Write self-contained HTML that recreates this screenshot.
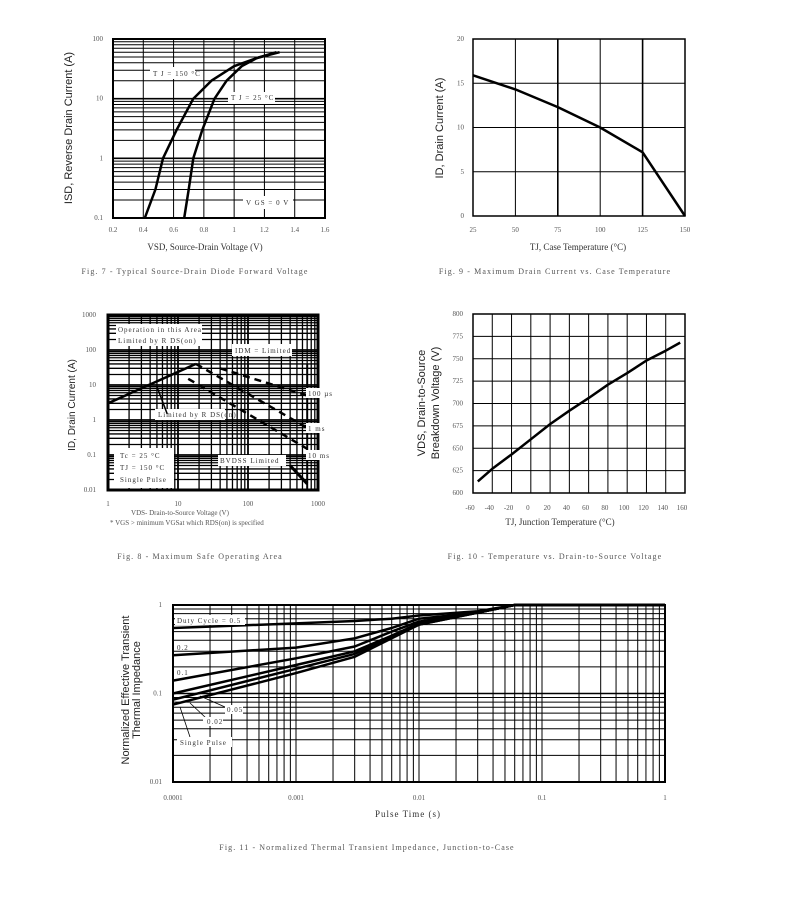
<!DOCTYPE html>
<html><head><meta charset="utf-8"><style>
html,body{margin:0;padding:0;background:#fff;width:787px;height:898px;overflow:hidden}
svg{display:block}
text{font-family:"Liberation Serif",serif;fill:#333}
.tk{font-size:7px;fill:#555}
.sans{font-family:"Liberation Sans",sans-serif;fill:#222}
.cap{font-size:8px;fill:#555;letter-spacing:1.1px}
.lab{font-size:7px;letter-spacing:1px;fill:#333}
</style></head><body>
<svg id="page" width="787" height="898" viewBox="0 0 787 898" xmlns="http://www.w3.org/2000/svg"></svg>
<script>
// ---- Fig 7 data ----
const f7XTicks=[0.2,0.4,0.6,0.8,1,1.2,1.4,1.6];
const f7YTicks=[0.1,1,10,100];
const f7V150=[0.41,0.48,0.53,0.62,0.73,0.85,1.0,1.15,1.3];
const f7I150=[0.1,0.3,1,3,10,20,35,48,60];
const f7V25=[0.67,0.70,0.73,0.79,0.87,0.95,1.05,1.15,1.28];
const f7I25=[0.1,0.3,1,3,10,20,35,48,60];
// ---- Fig 9 data ----
const f9XTicks=[25,50,75,100,125,150];
const f9YTicks=[0,5,10,15,20];
const f9T=[25,50,75,100,125,150];
const f9I=[15.9,14.3,12.3,10,7.2,0];
// ---- Fig 8 data ----
const f8XTicks=[1,10,100,1000];
const f8YTicks=[0.01,0.1,1,10,100,1000];
const f8RdsV=[1,18];const f8RdsI=[3,40];
const f8LimV=[5,7];const f8LimI=[9,1.5];
const f8V100us=[40,700];const f8I100us=[30,5];
const f8V1ms=[18,700];const f8I1ms=[40,0.6];
const f8V10ms=[14,700];const f8I10ms=[15,0.15];
const f8BvV=[400,700];const f8BvI=[0.05,0.015];
const f8VmaxV=[700,700];const f8VmaxI=[0.01,40];
// ---- Fig 10 data ----
const f10XTicks=[-60,-40,-20,0,20,40,60,80,100,120,140,160];
const f10YTicks=[600,625,650,675,700,725,750,775,800];
const f10T=[-55,-40,-20,0,20,40,60,80,100,120,140,155];
const f10V=[613,627,643,660,677,692,706,721,734,748,759,768];
// ---- Fig 11 data ----
const f11XTicks=[0.0001,0.001,0.01,0.1,1];
const f11XLabels=['0.0001','0.001','0.01','0.1','1'];
const f11YTicks=[0.01,0.1,1];
const f11T=[0.0001,0.001,0.003,0.006,0.01,0.03,0.06,1];
const f11D05=[0.55,0.62,0.66,0.70,0.76,0.85,1,1];
const f11D02=[0.27,0.33,0.42,0.55,0.70,0.82,1,1];
const f11D01=[0.14,0.25,0.34,0.50,0.65,0.82,1,1];
const f11D005=[0.10,0.21,0.30,0.45,0.62,0.82,1,1];
const f11D002=[0.085,0.19,0.28,0.43,0.60,0.82,1,1];
const f11Single=[0.075,0.17,0.26,0.42,0.60,0.82,1,1];

const NS='http://www.w3.org/2000/svg';
const svg=document.getElementById('page');
function mk(tag,attrs,name,parent){
  const el=document.createElementNS(NS,tag);
  for(const k in attrs) el.setAttribute(k,attrs[k]);
  
  
  (parent||svg).appendChild(el);
  return el;
}
function txt(x,y,s,cls,name,anchor,parent,rot){
  const t=mk('text',{x:x,y:y,'class':cls,'text-anchor':anchor||'start'},name,parent);
  if(rot) t.setAttribute('transform','rotate(-90 '+x+' '+y+')');
  t.textContent=s;return t;
}
function lin(lo,hi,p0,p1){return v=>p0+(v-lo)/(hi-lo)*(p1-p0);}
function lg(lo,hi,p0,p1){return v=>p0+(Math.log10(v)-Math.log10(lo))/(Math.log10(hi)-Math.log10(lo))*(p1-p0);}
function path(xs,ys,X,Y,name,g,w,dash){
  let d='';for(let i=0;i<xs.length;i++)d+=(i?'L':'M')+X(xs[i]).toFixed(1)+' '+Y(ys[i]).toFixed(1);
  const p=mk('path',{d:d,fill:'none',stroke:'#000','stroke-width':w||2.5,'stroke-linejoin':'round'},name,g);
  if(dash)p.setAttribute('stroke-dasharray',dash);
  return p;
}
function logGridVals(lo,hi){const r=[];for(let d=Math.round(Math.log10(lo));d<Math.round(Math.log10(hi));d++)for(let k=1;k<10;k++)r.push(k*Math.pow(10,d));r.push(hi);return r;}
function hline(g,y,x0,x1,w,name){mk('line',{x1:x0,x2:x1,y1:y,y2:y,stroke:'#000','stroke-width':w},name,g);}
function vline(g,x,y0,y1,w,name){mk('line',{x1:x,x2:x,y1:y0,y2:y1,stroke:'#000','stroke-width':w},name,g);}
function box(g,x,y,w,h,name){mk('rect',{x:x,y:y,width:w,height:h,fill:'#fff'},name,g);}

// ===== Fig 7 =====
(function(){
  const g=mk('g',{},'fig7-source-drain-chart');
  const L=113,R=325,T=39,B=218;
  const X=lin(0.2,1.6,L,R),Y=lg(0.1,100,B,T);
  f7XTicks.forEach(v=>vline(g,X(v),T,B,1,'x-gridline'));
  logGridVals(0.1,100).forEach(v=>hline(g,Y(v),L,R,Math.abs(Math.log10(v)%1)<1e-9?1.6:1,'y-gridline'));
  mk('rect',{x:L,y:T,width:R-L,height:B-T,fill:'none',stroke:'#000','stroke-width':2},'plot-frame',g);
  path(f7V150,f7I150,X,Y,'series-tj-150',g,2.5);
  path(f7V25,f7I25,X,Y,'series-tj-25',g,2.5);
  box(g,150,67,45,12,'label-bg');txt(153,76,'T J  = 150 °C','lab','label-tj-150','start',g);
  box(g,228,92,47,12,'label-bg');txt(231,100,'T J  = 25 °C','lab','label-tj-25','start',g);
  box(g,243,196,50,13,'label-bg');txt(246,205,'V GS  = 0 V','lab','label-vgs','start',g);
  f7XTicks.forEach(v=>txt(X(v),232,String(v),'tk','x-tick-label','middle',g));
  f7YTicks.forEach(v=>txt(103,Y(v)+2,String(v),'tk','y-tick-label','end',g));
  txt(205,250,'VSD, Source-Drain Voltage (V)','','x-axis-title','middle',g).setAttribute('style','font-size:9px');
  const yt=txt(72,128,'ISD, Reverse Drain Current (A)','sans','y-axis-title','middle',g,true);yt.setAttribute('style','font-size:11px');
  txt(195,274,'Fig. 7 - Typical Source-Drain Diode Forward Voltage','cap','caption-fig7','middle',g);
})();

// ===== Fig 9 =====
(function(){
  const g=mk('g',{},'fig9-drain-current-chart');
  const L=473,R=685,T=39,B=216;
  const X=lin(25,150,L,R),Y=lin(0,20,B,T);
  f9XTicks.forEach(v=>vline(g,X(v),T,B,v===75||v===125?1.6:1,'x-gridline'));
  f9YTicks.forEach(v=>hline(g,Y(v),L,R,1,'y-gridline'));
  mk('rect',{x:L,y:T,width:R-L,height:B-T,fill:'none',stroke:'#000','stroke-width':1.5},'plot-frame',g);
  path(f9T,f9I,X,Y,'series-drain-current',g,2.5);
  f9XTicks.forEach(v=>txt(X(v),232,String(v),'tk','x-tick-label','middle',g));
  f9YTicks.forEach(v=>txt(464,Y(v)+2,String(v),'tk','y-tick-label','end',g));
  txt(578,250,'TJ, Case Temperature (°C)','','x-axis-title','middle',g).setAttribute('style','font-size:9px');
  const yt=txt(443,128,'ID, Drain Current (A)','sans','y-axis-title','middle',g,true);yt.setAttribute('style','font-size:11px');
  txt(555,274,'Fig. 9 - Maximum Drain Current vs. Case Temperature','cap','caption-fig9','middle',g);
})();

// ===== Fig 8 =====
(function(){
  const g=mk('g',{},'fig8-safe-operating-area-chart');
  const L=108,R=318,T=315,B=490;
  const X=lg(1,1000,L,R),Y=lg(0.01,1000,B,T);
  logGridVals(1,1000).forEach(v=>vline(g,X(v),T,B,Math.abs(Math.log10(v)%1)<1e-9?1.8:1.3,'x-gridline'));
  logGridVals(0.01,1000).forEach(v=>hline(g,Y(v),L,R,Math.abs(Math.log10(v)%1)<1e-9?1.8:1.3,'y-gridline'));
  mk('rect',{x:L,y:T,width:R-L,height:B-T,fill:'none',stroke:'#000','stroke-width':3},'plot-frame',g);
  box(g,116,324,86,22,'label-bg');
  txt(118,332,'Operation in this Area','lab','label-operation-area','start',g);
  txt(118,343,'Limited by R DS(on)','lab','label-limited-rds','start',g);
  box(g,232,344,60,12,'label-bg');txt(235,353,'IDM = Limited','lab','label-idm','start',g);
  box(g,155,409,70,11,'label-bg');txt(158,417,'Limited by R DS(on)','lab','label-limited-rds-2','start',g);
  box(g,114,448,60,40,'label-bg');
  txt(120,458,'Tc = 25 °C','lab','label-tc','start',g);
  txt(120,470,'TJ = 150 °C','lab','label-tj','start',g);
  txt(120,482,'Single Pulse','lab','label-single-pulse','start',g);
  box(g,218,455,68,11,'label-bg');txt(220,463,'BVDSS Limited','lab','label-bvdss','start',g);
  path(f8RdsV,f8RdsI,X,Y,'series-rds-limit',g,2.5);
  path(f8LimV,f8LimI,X,Y,'series-rds-limit-short',g,1.5);
  path(f8V100us,f8I100us,X,Y,'series-100us',g,2.5,'7 5');
  path(f8V1ms,f8I1ms,X,Y,'series-1ms',g,2.5,'7 5');
  path(f8V10ms,f8I10ms,X,Y,'series-10ms',g,2.5,'7 5');
  path(f8BvV,f8BvI,X,Y,'series-bvdss',g,3);
  path(f8VmaxV,f8VmaxI,X,Y,'series-vmax',g,2);
  box(g,306,388,34,10,'label-bg');txt(308,396,'100 µs','lab','label-100us','start',g);
  box(g,306,423,30,10,'label-bg');txt(308,431,'1 ms','lab','label-1ms','start',g);
  box(g,306,450,34,10,'label-bg');txt(308,458,'10 ms','lab','label-10ms','start',g);
  f8XTicks.forEach(v=>txt(X(v),506,String(v),'tk','x-tick-label','middle',g));
  f8YTicks.forEach(v=>txt(96,Y(v)+2,String(v),'tk','y-tick-label','end',g));
  txt(180,515,'VDS- Drain-to-Source Voltage (V)','tk','x-axis-title','middle',g);
  txt(110,525,'*  VGS > minimum VGSat which RDS(on) is specified','tk','footnote','start',g);
  const yt=txt(75,405,'ID, Drain Current (A)','sans','y-axis-title','middle',g,true);yt.setAttribute('style','font-size:10px');
  txt(200,559,'Fig. 8 - Maximum Safe Operating Area','cap','caption-fig8','middle',g);
})();

// ===== Fig 10 =====
(function(){
  const g=mk('g',{},'fig10-breakdown-voltage-chart');
  const L=473,R=685,T=314,B=493;
  const X=lin(-60,160,L,R),Y=lin(600,800,B,T);
  f10XTicks.forEach(v=>vline(g,X(v),T,B,1,'x-gridline'));
  f10YTicks.forEach(v=>hline(g,Y(v),L,R,1,'y-gridline'));
  mk('rect',{x:L,y:T,width:R-L,height:B-T,fill:'none',stroke:'#000','stroke-width':1.5},'plot-frame',g);
  path(f10T,f10V,X,Y,'series-breakdown-voltage',g,2.5);
  f10XTicks.forEach(v=>txt(X(v)-3,510,String(v),'tk','x-tick-label','middle',g));
  f10YTicks.forEach(v=>txt(463,Y(v)+2,String(v),'tk','y-tick-label','end',g));
  txt(560,525,'TJ, Junction Temperature (°C)','','x-axis-title','middle',g).setAttribute('style','font-size:9px');
  const y1=txt(425,403,'VDS, Drain-to-Source','sans','y-axis-title-line1','middle',g,true);y1.setAttribute('style','font-size:11px');
  const y2=txt(439,403,'Breakdown Voltage (V)','sans','y-axis-title-line2','middle',g,true);y2.setAttribute('style','font-size:11px');
  txt(555,559,'Fig. 10 - Temperature vs. Drain-to-Source Voltage','cap','caption-fig10','middle',g);
})();

// ===== Fig 11 =====
(function(){
  const g=mk('g',{},'fig11-thermal-impedance-chart');
  const L=173,R=665,T=605,B=782;
  const X=lg(0.0001,1,L,R),Y=lg(0.01,1,B,T);
  logGridVals(0.0001,1).forEach(v=>vline(g,X(v),T,B,1,'x-gridline'));
  logGridVals(0.01,1).forEach(v=>hline(g,Y(v),L,R,Math.abs(Math.log10(v)%1)<1e-9?1.6:1,'y-gridline'));
  mk('rect',{x:L,y:T,width:R-L,height:B-T,fill:'none',stroke:'#000','stroke-width':2},'plot-frame',g);
  path(f11T,f11D05,X,Y,'series-duty-0.5',g,2.5);
  path(f11T,f11D02,X,Y,'series-duty-0.2',g,2.5);
  path(f11T,f11D01,X,Y,'series-duty-0.1',g,2.5);
  path(f11T,f11D005,X,Y,'series-duty-0.05',g,2.5);
  path(f11T,f11D002,X,Y,'series-duty-0.02',g,2.5);
  path(f11T,f11Single,X,Y,'series-single-pulse',g,2.5);
  box(g,175,615,70,10,'label-bg');txt(177,623,'Duty Cycle = 0.5','lab','label-duty-0.5','start',g);
  txt(177,650,'0.2','lab','label-0.2','start',g);
  txt(177,675,'0.1','lab','label-0.1','start',g);
  mk('line',{x1:200,y1:696,x2:225,y2:707,stroke:'#000','stroke-width':0.8},'arrow-0.05',g);
  box(g,225,705,18,9,'label-bg');txt(227,712,'0.05','lab','label-0.05','start',g);
  mk('line',{x1:190,y1:703,x2:206,y2:718,stroke:'#000','stroke-width':0.8},'arrow-0.02',g);
  box(g,203,717,20,9,'label-bg');txt(207,724,'0.02','lab','label-0.02','start',g);
  mk('line',{x1:180,y1:707,x2:190,y2:737,stroke:'#000','stroke-width':0.8},'arrow-single-pulse',g);
  box(g,177,737,55,10,'label-bg');txt(180,745,'Single Pulse','lab','label-single-pulse','start',g);
  f11XTicks.forEach((v,i)=>txt(X(v),800,f11XLabels[i],'tk','x-tick-label','middle',g));
  f11YTicks.forEach(v=>txt(162,Y(v)+2,String(v),'tk','y-tick-label','end',g));
  txt(408,817,'Pulse Time (s)','','x-axis-title','middle',g).setAttribute('style','font-size:9px;letter-spacing:1px');
  const y1=txt(129,690,'Normalized Effective Transient','sans','y-axis-title-line1','middle',g,true);y1.setAttribute('style','font-size:11px');
  const y2=txt(140,690,'Thermal Impedance','sans','y-axis-title-line2','middle',g,true);y2.setAttribute('style','font-size:11px');
  txt(367,850,'Fig. 11 - Normalized Thermal Transient Impedance, Junction-to-Case','cap','caption-fig11','middle',g);
})();
</script>
</body></html>
